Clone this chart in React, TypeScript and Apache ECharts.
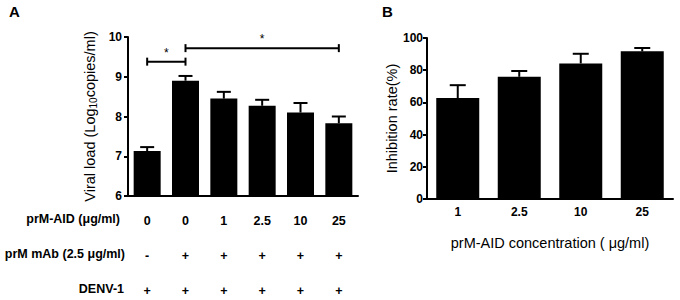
import React, { useEffect, useRef } from "react";
import * as echarts from "echarts";

const catsA = ["0", "0", "1", "2.5", "10", "25"];
const mabRow = ["-", "+", "+", "+", "+", "+"];
const denvRow = ["+", "+", "+", "+", "+", "+"];
const meanA = [7.13, 8.9, 8.45, 8.27, 8.1, 7.83];
const upperA = [7.23, 9.02, 8.62, 8.42, 8.34, 8.0];
const brackets = [
  { from: 0, to: 1, y: 9.38, label: "*" },
  { from: 1, to: 5, y: 9.72, label: "*" },
];
const yTicksA = { min: 6, max: 10, interval: 1 };

const catsB = ["1", "2.5", "10", "25"];
const meanB = [62.7, 75.9, 84.2, 91.7];
const upperB = [70.7, 79.5, 90.2, 93.8];
const yTicksB = { min: 0, max: 100, interval: 20 };

const FONT = "Liberation Sans, Arial, sans-serif";

function errorBarRenderer(capHalf: number) {
  return (params: any, api: any) => {
    const top = api.coord([api.value(0), api.value(2)]);
    const base = api.coord([api.value(0), api.value(1)]);
    return {
      type: "group",
      children: [
        {
          type: "line",
          shape: { x1: base[0], y1: base[1], x2: top[0], y2: top[1] },
          style: { stroke: "#000", lineWidth: 2 },
        },
        {
          type: "line",
          shape: { x1: top[0] - capHalf, y1: top[1], x2: top[0] + capHalf, y2: top[1] },
          style: { stroke: "#000", lineWidth: 2 },
        },
      ],
    };
  };
}

export default function App() {
  const ref = useRef<HTMLDivElement>(null);
  useEffect(() => {
    document.body.style.margin = "0";
    const chart = echarts.init(ref.current!, undefined, { renderer: "svg" });
    const axisLine = { lineStyle: { color: "#000", width: 2 } };
    const tickLabel = { color: "#000", fontFamily: FONT, fontSize: 12, fontWeight: "bold" as const };
    const titleStyle = { color: "#000", fontFamily: FONT, fontSize: 14.5 };
    chart.setOption({
      animation: false,
      backgroundColor: "#fff",
      grid: [
        { left: 128, top: 37, width: 230, height: 159 },
        { left: 427, top: 38, width: 246, height: 161 },
      ],
      xAxis: [
        {
          type: "category", gridIndex: 0, data: catsA,
          axisLine, axisTick: { alignWithLabel: true, length: 4, lineStyle: { width: 2, color: "#000" } },
          axisLabel: { ...tickLabel, fontSize: 12.5, margin: 18 },
        },
        {
          type: "category", gridIndex: 0, data: mabRow, position: "bottom", offset: 35,
          axisLine: { show: false }, axisTick: { show: false },
          axisLabel: { ...tickLabel, fontSize: 12.5, margin: 18 },
        },
        {
          type: "category", gridIndex: 0, data: denvRow, position: "bottom", offset: 70,
          axisLine: { show: false }, axisTick: { show: false },
          axisLabel: { ...tickLabel, fontSize: 12.5, margin: 18 },
        },
        {
          type: "category", gridIndex: 1, data: catsB,
          axisLine, axisTick: { alignWithLabel: true, length: 4, lineStyle: { width: 2, color: "#000" } },
          axisLabel: { ...tickLabel, margin: 7 },
          name: "prM-AID concentration ( μg/ml)", nameLocation: "middle", nameGap: 36,
          nameTextStyle: titleStyle,
        },
      ],
      yAxis: [
        {
          type: "value", gridIndex: 0, ...yTicksA,
          axisLine: { show: true, ...axisLine },
          axisTick: { show: true, length: 4, lineStyle: { width: 2, color: "#000" } },
          splitLine: { show: false },
          axisLabel: { ...tickLabel, margin: 6 },
          name: "{a|Viral load (Log}{s|10}{a|copies/ml)}",
          nameLocation: "middle", nameGap: 30, nameRotate: 90,
          nameTextStyle: {
            rich: {
              a: { ...titleStyle },
              s: { color: "#000", fontFamily: FONT, fontSize: 10, verticalAlign: "bottom", padding: [7, 0, 0, 0] },
            },
          },
        },
        {
          type: "value", gridIndex: 1, ...yTicksB,
          axisLine: { show: true, ...axisLine },
          axisTick: { show: true, length: 4, lineStyle: { width: 2, color: "#000" } },
          splitLine: { show: false },
          axisLabel: { ...tickLabel, margin: 4 },
          name: "Inhibition rate(%)", nameLocation: "middle", nameGap: 27,
          nameTextStyle: titleStyle,
        },
      ],
      series: [
        {
          type: "bar", xAxisIndex: 0, yAxisIndex: 0, data: meanA, barWidth: 27,
          itemStyle: { color: "#000" },
        },
        {
          type: "custom", xAxisIndex: 0, yAxisIndex: 0, clip: false,
          data: meanA.map((m, i) => [i, m, upperA[i]]),
          encode: { x: 0, y: [1, 2] },
          renderItem: errorBarRenderer(7),
        },
        {
          type: "custom", xAxisIndex: 0, yAxisIndex: 0, clip: false,
          data: brackets.map((b) => [b.from, b.to, b.y]),
          encode: { x: [0, 1], y: 2 },
          renderItem: (params: any, api: any) => {
            const a = api.coord([api.value(0), api.value(2)]);
            const b = api.coord([api.value(1), api.value(2)]);
            const h = 4;
            const st = { stroke: "#000", lineWidth: 2 };
            return {
              type: "group",
              children: [
                { type: "line", shape: { x1: a[0], y1: a[1], x2: b[0], y2: b[1] }, style: st },
                { type: "line", shape: { x1: a[0], y1: a[1] - h, x2: a[0], y2: a[1] + h }, style: st },
                { type: "line", shape: { x1: b[0], y1: b[1] - h, x2: b[0], y2: b[1] + h }, style: st },
                {
                  type: "text",
                  style: {
                    text: brackets[params.dataIndex].label,
                    x: (a[0] + b[0]) / 2, y: a[1] - 3,
                    align: "center", verticalAlign: "bottom",
                    fill: "#000", font: `12px ${FONT}`,
                  },
                },
              ],
            };
          },
        },
        {
          type: "bar", xAxisIndex: 3, yAxisIndex: 1, data: meanB, barWidth: 43,
          itemStyle: { color: "#000" },
        },
        {
          type: "custom", xAxisIndex: 3, yAxisIndex: 1, clip: false,
          data: meanB.map((m, i) => [i, m, upperB[i]]),
          encode: { x: 0, y: [1, 2] },
          renderItem: errorBarRenderer(8),
        },
      ],
      graphic: [
        { type: "text", left: 9, top: 4, style: { text: "A", font: `bold 15px ${FONT}`, fill: "#000" } },
        { type: "text", left: 382, top: 4, style: { text: "B", font: `bold 15px ${FONT}`, fill: "#000" } },
        { type: "text", right: 680 - 120, top: 212, style: { text: "prM-AID (μg/ml)", font: `bold 12.5px ${FONT}`, fill: "#000" } },
        { type: "text", right: 680 - 125, top: 247, style: { text: "prM mAb (2.5 μg/ml)", font: `bold 12.5px ${FONT}`, fill: "#000" } },
        { type: "text", right: 680 - 124, top: 282, style: { text: "DENV-1", font: `bold 12.5px ${FONT}`, fill: "#000" } },
      ],
    });
    return () => chart.dispose();
  }, []);
  return <div ref={ref} style={{ width: 680, height: 300 }} />;
}
